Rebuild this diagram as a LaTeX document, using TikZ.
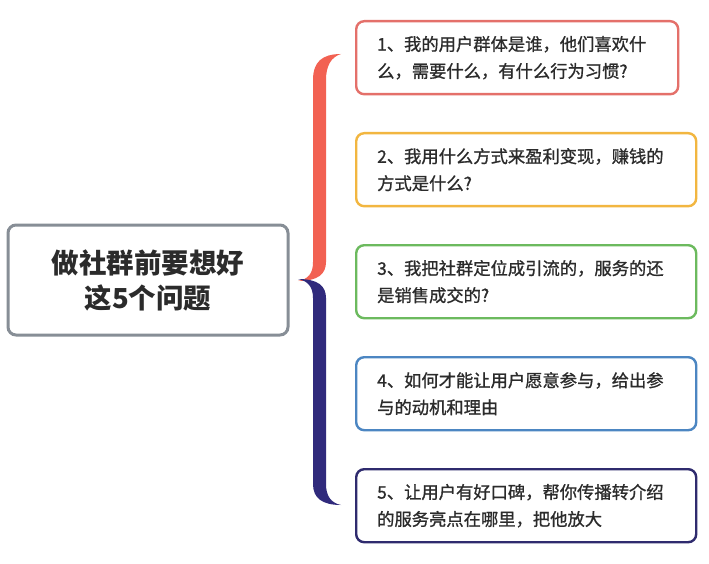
\documentclass[tikz,border=0pt]{standalone}
\usepackage{fontspec}
\newfontfamily\cjk{Noto Sans CJK SC}
\newfontfamily\cjkm[FakeBold=1.0]{Noto Sans CJK SC}
\definecolor{txt}{HTML}{2B2B2B}
\definecolor{cgray}{HTML}{878E96}
\definecolor{cred}{HTML}{E4706A}
\definecolor{corange}{HTML}{F2B640}
\definecolor{cgreen}{HTML}{6CBA5E}
\definecolor{cblue}{HTML}{4C86C2}
\definecolor{cnavy}{HTML}{2F2B6E}
\definecolor{bred}{HTML}{F26152}
\definecolor{bnavy}{HTML}{302A7C}
\tikzset{
  qbox/.style={draw, line width=2.4pt, rounded corners=8pt, fill=white,
    inner xsep=21pt, inner ysep=0pt, minimum height=73pt, text width=298pt,
    align=left, anchor=north west, text=txt,
    font=\cjkm\fontsize{17.3pt}{27pt}\selectfont},
  mainbox/.style={draw=cgray, line width=3pt, rounded corners=8pt, fill=white,
    minimum width=280pt, minimum height=110pt, align=center, text=txt,
    font=\cjk\bfseries\fontsize{27.5pt}{35pt}\selectfont}
}
\begin{document}
\begin{tikzpicture}[x=1pt,y=-1pt]
\useasboundingbox[fill=white] (0,0) rectangle (709,564);
% main box
\node[mainbox] (main) at (148,280) {做社群前要想好\\这5个问题};
% braces
\fill[bred] (341,54) .. controls (322,54) and (313,62) .. (313,80)
  -- (313,262) .. controls (313,274) and (308,279) .. (298,281)
  .. controls (318,281) and (326,274) .. (326,262)
  -- (326,80) .. controls (326,66) and (331,57) .. (341,54) -- cycle;
\fill[bnavy] (298,279) .. controls (318,279) and (326,286) .. (326,298)
  -- (326,484) .. controls (326,496) and (331,503) .. (341,505)
  .. controls (322,505) and (313,498) .. (313,484)
  -- (313,298) .. controls (313,287) and (308,281) .. (298,279) -- cycle;
% question boxes
\node[qbox, draw=cred, text width=280pt] (q1) at (355,20) {1、我的用户群体是谁，他们喜欢什\\么，需要什么，有什么行为习惯?};
\node[qbox, draw=corange] (q2) at (355,132) {2、我用什么方式来盈利变现，赚钱的\\方式是什么?};
\node[qbox, draw=cgreen] (q3) at (355,244) {3、我把社群定位成引流的，服务的还\\是销售成交的?};
\node[qbox, draw=cblue] (q4) at (355,356) {4、如何才能让用户愿意参与，给出参\\与的动机和理由};
\node[qbox, draw=cnavy] (q5) at (355,468) {5、让用户有好口碑，帮你传播转介绍\\的服务亮点在哪里，把他放大};
\end{tikzpicture}
\end{document}
